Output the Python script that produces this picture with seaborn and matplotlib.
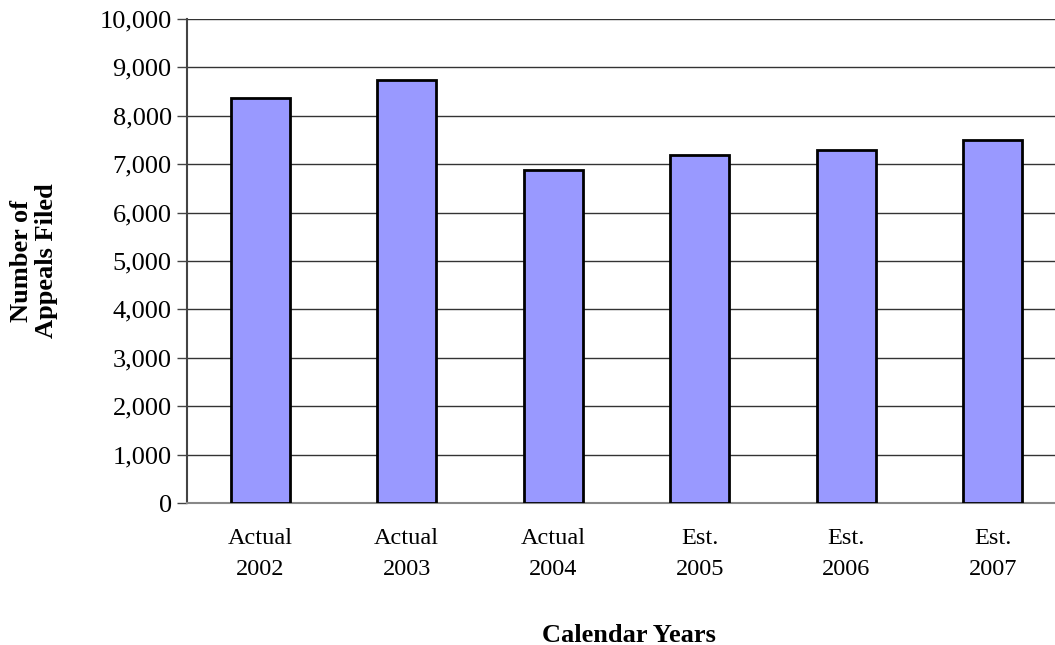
import matplotlib
matplotlib.use('Agg')
import matplotlib.pyplot as plt
import seaborn as sns
import pandas as pd
from matplotlib.ticker import FuncFormatter

# data
categories = ['Actual\n2002', 'Actual\n2003', 'Actual\n2004', 'Est.\n2005', 'Est.\n2006', 'Est.\n2007']
appeals = [8360, 8740, 6880, 7200, 7290, 7490]

df = pd.DataFrame({'year': categories, 'appeals': appeals})

sns.set_theme(style='white')
plt.rcParams['font.family'] = ['Liberation Serif', 'DejaVu Serif']
plt.rcParams['text.color'] = 'black'
plt.rcParams['xtick.color'] = 'black'
plt.rcParams['ytick.color'] = 'black'

fig = plt.figure(figsize=(10.55, 6.45), dpi=100)
ax = fig.add_axes([187 / 1055, 1 - 503 / 645, (1066 - 187) / 1055, (503 - 19) / 645])

sns.barplot(data=df, x='year', y='appeals', color='#9999ff', saturation=1,
            width=0.4, edgecolor='black', linewidth=2, ax=ax, zorder=3)

ax.set_ylim(0, 10000)
ax.set_xlim(-0.5, 5.5)
ax.set_yticks(range(0, 10001, 1000))
ax.yaxis.set_major_formatter(FuncFormatter(lambda v, p: f'{int(v):,}'))
ax.yaxis.grid(True, color='#333333', linewidth=1, zorder=0)
ax.set_axisbelow(True)

for s in ['top', 'right']:
    ax.spines[s].set_visible(False)
ax.spines['left'].set_color('#444444')
ax.spines['left'].set_linewidth(1.5)
ax.spines['bottom'].set_color('#888888')
ax.spines['bottom'].set_linewidth(1.5)

ax.tick_params(axis='y', which='major', left=True, length=7, width=1, color='#444444',
               labelsize=19, pad=4)
ax.tick_params(axis='x', bottom=False, labelsize=17.5, pad=12)
for lbl in ax.get_xticklabels():
    lbl.set_linespacing(1.65)

ax.set_xlabel('')
ax.set_ylabel('')
fig.text(34 / 1055, 1 - 261 / 645, 'Number of\nAppeals Filed', rotation=90,
         ha='center', va='center', fontsize=19, fontweight='bold', linespacing=1.15)
fig.text(629 / 1055, 1 - 635 / 645, 'Calendar Years', ha='center', va='center',
         fontsize=19, fontweight='bold')

fig.savefig('out.png', dpi=100)
